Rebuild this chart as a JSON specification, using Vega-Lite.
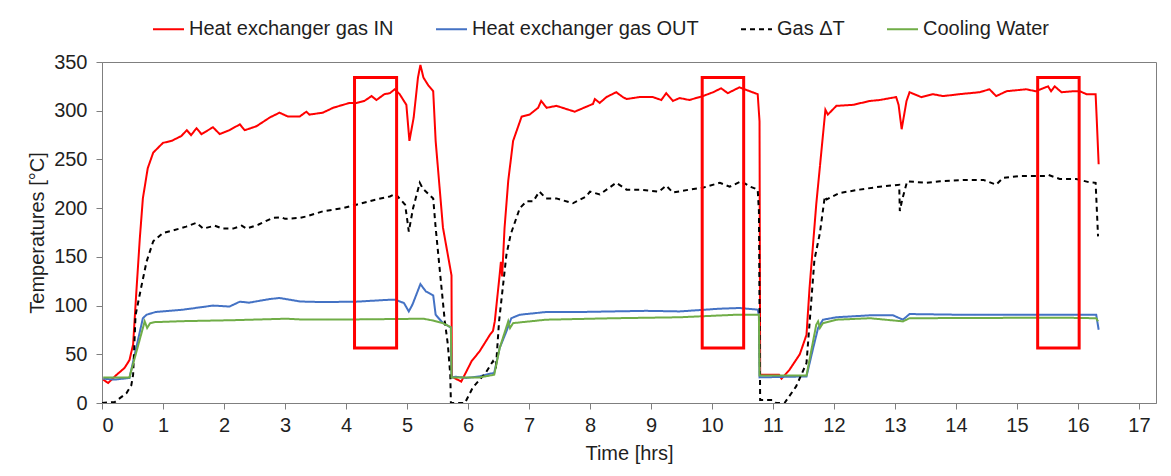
{
  "$schema": "https://vega.github.io/schema/vega-lite/v6.json",
  "width": 1054,
  "height": 341,
  "autosize": {"type": "none"},
  "padding": {"left": 102, "top": 62, "right": 15, "bottom": 73},
  "background": "white",
  "config": {
    "font": "Liberation Sans",
    "view": {"stroke": "#7f7f7f", "strokeWidth": 1},
    "axis": {"grid": false, "domainColor": "#7f7f7f", "tickColor": "#7f7f7f", "labelFontSize": 20, "labelColor": "#1f1f1f", "titleFontSize": 20, "titleFontWeight": "normal", "titleColor": "#1f1f1f", "tickSize": 6, "labelFont": "Liberation Sans", "titleFont": "Liberation Sans"},
    "legend": {"orient": "none", "legendX": 50, "legendY": -49.5, "direction": "horizontal", "symbolType": "stroke", "symbolSize": 961, "symbolStrokeWidth": 2, "labelFontSize": 20, "labelFont": "Liberation Sans", "labelColor": "#1f1f1f", "labelOffset": 4, "columnPadding": 38, "padding": 0, "labelLimit": 400}
  },
  "datasets": {
    "lines": [
      {"s":"Heat exchanger gas IN","t":0.02,"v":24},{"s":"Heat exchanger gas IN","t":0.1,"v":20.5},{"s":"Heat exchanger gas IN","t":0.24,"v":29},{"s":"Heat exchanger gas IN","t":0.37,"v":36},{"s":"Heat exchanger gas IN","t":0.45,"v":44},{"s":"Heat exchanger gas IN","t":0.51,"v":60},{"s":"Heat exchanger gas IN","t":0.56,"v":111},{"s":"Heat exchanger gas IN","t":0.62,"v":169},{"s":"Heat exchanger gas IN","t":0.67,"v":210},{"s":"Heat exchanger gas IN","t":0.75,"v":241},{"s":"Heat exchanger gas IN","t":0.84,"v":257},{"s":"Heat exchanger gas IN","t":1.0,"v":267},{"s":"Heat exchanger gas IN","t":1.14,"v":269},{"s":"Heat exchanger gas IN","t":1.3,"v":274},{"s":"Heat exchanger gas IN","t":1.39,"v":280},{"s":"Heat exchanger gas IN","t":1.46,"v":275},{"s":"Heat exchanger gas IN","t":1.55,"v":282},{"s":"Heat exchanger gas IN","t":1.63,"v":276},{"s":"Heat exchanger gas IN","t":1.82,"v":283},{"s":"Heat exchanger gas IN","t":1.93,"v":276},{"s":"Heat exchanger gas IN","t":2.09,"v":280},{"s":"Heat exchanger gas IN","t":2.26,"v":286},{"s":"Heat exchanger gas IN","t":2.34,"v":280},{"s":"Heat exchanger gas IN","t":2.53,"v":284},{"s":"Heat exchanger gas IN","t":2.75,"v":293},{"s":"Heat exchanger gas IN","t":2.91,"v":298},{"s":"Heat exchanger gas IN","t":3.05,"v":294},{"s":"Heat exchanger gas IN","t":3.24,"v":294},{"s":"Heat exchanger gas IN","t":3.35,"v":299},{"s":"Heat exchanger gas IN","t":3.4,"v":296},{"s":"Heat exchanger gas IN","t":3.62,"v":298},{"s":"Heat exchanger gas IN","t":3.79,"v":303},{"s":"Heat exchanger gas IN","t":3.95,"v":306},{"s":"Heat exchanger gas IN","t":4.06,"v":308},{"s":"Heat exchanger gas IN","t":4.17,"v":308},{"s":"Heat exchanger gas IN","t":4.3,"v":310},{"s":"Heat exchanger gas IN","t":4.42,"v":315},{"s":"Heat exchanger gas IN","t":4.5,"v":311},{"s":"Heat exchanger gas IN","t":4.63,"v":317},{"s":"Heat exchanger gas IN","t":4.72,"v":318},{"s":"Heat exchanger gas IN","t":4.8,"v":322},{"s":"Heat exchanger gas IN","t":4.88,"v":317},{"s":"Heat exchanger gas IN","t":4.99,"v":306},{"s":"Heat exchanger gas IN","t":5.04,"v":269},{"s":"Heat exchanger gas IN","t":5.11,"v":293},{"s":"Heat exchanger gas IN","t":5.18,"v":334},{"s":"Heat exchanger gas IN","t":5.22,"v":347},{"s":"Heat exchanger gas IN","t":5.27,"v":334},{"s":"Heat exchanger gas IN","t":5.35,"v":326},{"s":"Heat exchanger gas IN","t":5.43,"v":320},{"s":"Heat exchanger gas IN","t":5.47,"v":269},{"s":"Heat exchanger gas IN","t":5.59,"v":180},{"s":"Heat exchanger gas IN","t":5.73,"v":131},{"s":"Heat exchanger gas IN","t":5.735,"v":27},{"s":"Heat exchanger gas IN","t":5.89,"v":22},{"s":"Heat exchanger gas IN","t":6.06,"v":43},{"s":"Heat exchanger gas IN","t":6.19,"v":53},{"s":"Heat exchanger gas IN","t":6.36,"v":70},{"s":"Heat exchanger gas IN","t":6.41,"v":74},{"s":"Heat exchanger gas IN","t":6.44,"v":84},{"s":"Heat exchanger gas IN","t":6.52,"v":132},{"s":"Heat exchanger gas IN","t":6.54,"v":145},{"s":"Heat exchanger gas IN","t":6.56,"v":130},{"s":"Heat exchanger gas IN","t":6.6,"v":180},{"s":"Heat exchanger gas IN","t":6.66,"v":228},{"s":"Heat exchanger gas IN","t":6.74,"v":269},{"s":"Heat exchanger gas IN","t":6.88,"v":294},{"s":"Heat exchanger gas IN","t":7.01,"v":296},{"s":"Heat exchanger gas IN","t":7.15,"v":303},{"s":"Heat exchanger gas IN","t":7.2,"v":310},{"s":"Heat exchanger gas IN","t":7.29,"v":303},{"s":"Heat exchanger gas IN","t":7.45,"v":305},{"s":"Heat exchanger gas IN","t":7.75,"v":299},{"s":"Heat exchanger gas IN","t":8.05,"v":307},{"s":"Heat exchanger gas IN","t":8.08,"v":312},{"s":"Heat exchanger gas IN","t":8.16,"v":308},{"s":"Heat exchanger gas IN","t":8.27,"v":314},{"s":"Heat exchanger gas IN","t":8.43,"v":319},{"s":"Heat exchanger gas IN","t":8.54,"v":314},{"s":"Heat exchanger gas IN","t":8.6,"v":312},{"s":"Heat exchanger gas IN","t":8.81,"v":314},{"s":"Heat exchanger gas IN","t":9.03,"v":314},{"s":"Heat exchanger gas IN","t":9.17,"v":311},{"s":"Heat exchanger gas IN","t":9.25,"v":318},{"s":"Heat exchanger gas IN","t":9.36,"v":310},{"s":"Heat exchanger gas IN","t":9.47,"v":313},{"s":"Heat exchanger gas IN","t":9.63,"v":311},{"s":"Heat exchanger gas IN","t":9.85,"v":315},{"s":"Heat exchanger gas IN","t":10.02,"v":319},{"s":"Heat exchanger gas IN","t":10.15,"v":323},{"s":"Heat exchanger gas IN","t":10.26,"v":318},{"s":"Heat exchanger gas IN","t":10.45,"v":324},{"s":"Heat exchanger gas IN","t":10.62,"v":320},{"s":"Heat exchanger gas IN","t":10.75,"v":317},{"s":"Heat exchanger gas IN","t":10.78,"v":289},{"s":"Heat exchanger gas IN","t":10.79,"v":29},{"s":"Heat exchanger gas IN","t":11.1,"v":29},{"s":"Heat exchanger gas IN","t":11.14,"v":25},{"s":"Heat exchanger gas IN","t":11.27,"v":34},{"s":"Heat exchanger gas IN","t":11.44,"v":50},{"s":"Heat exchanger gas IN","t":11.55,"v":70},{"s":"Heat exchanger gas IN","t":11.6,"v":118},{"s":"Heat exchanger gas IN","t":11.71,"v":204},{"s":"Heat exchanger gas IN","t":11.82,"v":275},{"s":"Heat exchanger gas IN","t":11.86,"v":301},{"s":"Heat exchanger gas IN","t":11.9,"v":296},{"s":"Heat exchanger gas IN","t":12.04,"v":305},{"s":"Heat exchanger gas IN","t":12.31,"v":306},{"s":"Heat exchanger gas IN","t":12.59,"v":310},{"s":"Heat exchanger gas IN","t":12.75,"v":311},{"s":"Heat exchanger gas IN","t":13.02,"v":314},{"s":"Heat exchanger gas IN","t":13.06,"v":306},{"s":"Heat exchanger gas IN","t":13.11,"v":281},{"s":"Heat exchanger gas IN","t":13.19,"v":310},{"s":"Heat exchanger gas IN","t":13.24,"v":319},{"s":"Heat exchanger gas IN","t":13.43,"v":314},{"s":"Heat exchanger gas IN","t":13.62,"v":317},{"s":"Heat exchanger gas IN","t":13.79,"v":315},{"s":"Heat exchanger gas IN","t":14.06,"v":317},{"s":"Heat exchanger gas IN","t":14.39,"v":319},{"s":"Heat exchanger gas IN","t":14.55,"v":322},{"s":"Heat exchanger gas IN","t":14.66,"v":315},{"s":"Heat exchanger gas IN","t":14.83,"v":320},{"s":"Heat exchanger gas IN","t":15.15,"v":322},{"s":"Heat exchanger gas IN","t":15.31,"v":320},{"s":"Heat exchanger gas IN","t":15.51,"v":325},{"s":"Heat exchanger gas IN","t":15.56,"v":320},{"s":"Heat exchanger gas IN","t":15.62,"v":325},{"s":"Heat exchanger gas IN","t":15.73,"v":319},{"s":"Heat exchanger gas IN","t":15.92,"v":320},{"s":"Heat exchanger gas IN","t":16.03,"v":320},{"s":"Heat exchanger gas IN","t":16.14,"v":317},{"s":"Heat exchanger gas IN","t":16.29,"v":317},{"s":"Heat exchanger gas IN","t":16.31,"v":289},{"s":"Heat exchanger gas IN","t":16.34,"v":245},
      {"s":"Heat exchanger gas OUT","t":0.02,"v":25},{"s":"Heat exchanger gas OUT","t":0.2,"v":24},{"s":"Heat exchanger gas OUT","t":0.45,"v":25.7},{"s":"Heat exchanger gas OUT","t":0.67,"v":87},{"s":"Heat exchanger gas OUT","t":0.73,"v":90.6},{"s":"Heat exchanger gas OUT","t":0.88,"v":93.4},{"s":"Heat exchanger gas OUT","t":1.33,"v":95.8},{"s":"Heat exchanger gas OUT","t":1.82,"v":100},{"s":"Heat exchanger gas OUT","t":2.09,"v":99},{"s":"Heat exchanger gas OUT","t":2.26,"v":104},{"s":"Heat exchanger gas OUT","t":2.41,"v":103},{"s":"Heat exchanger gas OUT","t":2.75,"v":106.7},{"s":"Heat exchanger gas OUT","t":2.91,"v":107.8},{"s":"Heat exchanger gas OUT","t":3.24,"v":104.3},{"s":"Heat exchanger gas OUT","t":3.35,"v":104},{"s":"Heat exchanger gas OUT","t":3.62,"v":103.6},{"s":"Heat exchanger gas OUT","t":4.17,"v":104},{"s":"Heat exchanger gas OUT","t":4.72,"v":106},{"s":"Heat exchanger gas OUT","t":4.81,"v":106},{"s":"Heat exchanger gas OUT","t":4.95,"v":102.6},{"s":"Heat exchanger gas OUT","t":5.03,"v":94},{"s":"Heat exchanger gas OUT","t":5.09,"v":101},{"s":"Heat exchanger gas OUT","t":5.22,"v":122},{"s":"Heat exchanger gas OUT","t":5.31,"v":114.5},{"s":"Heat exchanger gas OUT","t":5.43,"v":110.5},{"s":"Heat exchanger gas OUT","t":5.47,"v":90.6},{"s":"Heat exchanger gas OUT","t":5.59,"v":82},{"s":"Heat exchanger gas OUT","t":5.72,"v":77.6},{"s":"Heat exchanger gas OUT","t":5.73,"v":26},{"s":"Heat exchanger gas OUT","t":5.8,"v":27},{"s":"Heat exchanger gas OUT","t":5.97,"v":25.7},{"s":"Heat exchanger gas OUT","t":6.19,"v":27.3},{"s":"Heat exchanger gas OUT","t":6.36,"v":30},{"s":"Heat exchanger gas OUT","t":6.43,"v":31},{"s":"Heat exchanger gas OUT","t":6.52,"v":56.5},{"s":"Heat exchanger gas OUT","t":6.63,"v":73.5},{"s":"Heat exchanger gas OUT","t":6.71,"v":87},{"s":"Heat exchanger gas OUT","t":6.85,"v":90.6},{"s":"Heat exchanger gas OUT","t":7.28,"v":93.4},{"s":"Heat exchanger gas OUT","t":7.83,"v":93.4},{"s":"Heat exchanger gas OUT","t":8.38,"v":94},{"s":"Heat exchanger gas OUT","t":8.92,"v":94.6},{"s":"Heat exchanger gas OUT","t":9.47,"v":94},{"s":"Heat exchanger gas OUT","t":10.13,"v":96.8},{"s":"Heat exchanger gas OUT","t":10.45,"v":97.5},{"s":"Heat exchanger gas OUT","t":10.75,"v":95.8},{"s":"Heat exchanger gas OUT","t":10.77,"v":90},{"s":"Heat exchanger gas OUT","t":10.78,"v":26.3},{"s":"Heat exchanger gas OUT","t":11.55,"v":27.3},{"s":"Heat exchanger gas OUT","t":11.66,"v":56.5},{"s":"Heat exchanger gas OUT","t":11.74,"v":77},{"s":"Heat exchanger gas OUT","t":11.82,"v":85.5},{"s":"Heat exchanger gas OUT","t":12.04,"v":88},{"s":"Heat exchanger gas OUT","t":12.59,"v":90},{"s":"Heat exchanger gas OUT","t":12.97,"v":90},{"s":"Heat exchanger gas OUT","t":13.13,"v":85.5},{"s":"Heat exchanger gas OUT","t":13.24,"v":91.3},{"s":"Heat exchanger gas OUT","t":14.06,"v":90.6},{"s":"Heat exchanger gas OUT","t":15.15,"v":90.6},{"s":"Heat exchanger gas OUT","t":16.3,"v":90.6},{"s":"Heat exchanger gas OUT","t":16.34,"v":75.2},
      {"s":"Gas ΔT","t":0,"v":0},{"s":"Gas ΔT","t":0.21,"v":1},{"s":"Gas ΔT","t":0.4,"v":10},{"s":"Gas ΔT","t":0.48,"v":18},{"s":"Gas ΔT","t":0.51,"v":29},{"s":"Gas ΔT","t":0.55,"v":90},{"s":"Gas ΔT","t":0.64,"v":118},{"s":"Gas ΔT","t":0.73,"v":145},{"s":"Gas ΔT","t":0.84,"v":166},{"s":"Gas ΔT","t":1.0,"v":174.5},{"s":"Gas ΔT","t":1.16,"v":177},{"s":"Gas ΔT","t":1.38,"v":181},{"s":"Gas ΔT","t":1.55,"v":185},{"s":"Gas ΔT","t":1.66,"v":179},{"s":"Gas ΔT","t":1.85,"v":182},{"s":"Gas ΔT","t":1.98,"v":179},{"s":"Gas ΔT","t":2.15,"v":179},{"s":"Gas ΔT","t":2.29,"v":182},{"s":"Gas ΔT","t":2.37,"v":179},{"s":"Gas ΔT","t":2.56,"v":183},{"s":"Gas ΔT","t":2.8,"v":190},{"s":"Gas ΔT","t":2.94,"v":190.6},{"s":"Gas ΔT","t":3.0,"v":189},{"s":"Gas ΔT","t":3.24,"v":190},{"s":"Gas ΔT","t":3.35,"v":191.5},{"s":"Gas ΔT","t":3.62,"v":196.7},{"s":"Gas ΔT","t":3.95,"v":200},{"s":"Gas ΔT","t":4.17,"v":203.5},{"s":"Gas ΔT","t":4.48,"v":208.7},{"s":"Gas ΔT","t":4.72,"v":212},{"s":"Gas ΔT","t":4.81,"v":214.5},{"s":"Gas ΔT","t":4.92,"v":207},{"s":"Gas ΔT","t":4.97,"v":203.5},{"s":"Gas ΔT","t":5.03,"v":176},{"s":"Gas ΔT","t":5.1,"v":200},{"s":"Gas ΔT","t":5.21,"v":226},{"s":"Gas ΔT","t":5.26,"v":220},{"s":"Gas ΔT","t":5.43,"v":210},{"s":"Gas ΔT","t":5.47,"v":180},{"s":"Gas ΔT","t":5.54,"v":135},{"s":"Gas ΔT","t":5.62,"v":84},{"s":"Gas ΔT","t":5.67,"v":60},{"s":"Gas ΔT","t":5.71,"v":29},{"s":"Gas ΔT","t":5.72,"v":0},{"s":"Gas ΔT","t":5.95,"v":0},{"s":"Gas ΔT","t":6.08,"v":16},{"s":"Gas ΔT","t":6.29,"v":31},{"s":"Gas ΔT","t":6.41,"v":43},{"s":"Gas ΔT","t":6.46,"v":38},{"s":"Gas ΔT","t":6.51,"v":84},{"s":"Gas ΔT","t":6.57,"v":118},{"s":"Gas ΔT","t":6.63,"v":152},{"s":"Gas ΔT","t":6.7,"v":173},{"s":"Gas ΔT","t":6.85,"v":200},{"s":"Gas ΔT","t":6.96,"v":207},{"s":"Gas ΔT","t":7.07,"v":207},{"s":"Gas ΔT","t":7.17,"v":217},{"s":"Gas ΔT","t":7.28,"v":210},{"s":"Gas ΔT","t":7.45,"v":210},{"s":"Gas ΔT","t":7.72,"v":205},{"s":"Gas ΔT","t":7.94,"v":212},{"s":"Gas ΔT","t":8.0,"v":217},{"s":"Gas ΔT","t":8.16,"v":214},{"s":"Gas ΔT","t":8.43,"v":226},{"s":"Gas ΔT","t":8.6,"v":219},{"s":"Gas ΔT","t":8.81,"v":219},{"s":"Gas ΔT","t":9.13,"v":217},{"s":"Gas ΔT","t":9.25,"v":223},{"s":"Gas ΔT","t":9.36,"v":216},{"s":"Gas ΔT","t":9.63,"v":219},{"s":"Gas ΔT","t":9.85,"v":221},{"s":"Gas ΔT","t":10.13,"v":226},{"s":"Gas ΔT","t":10.29,"v":222},{"s":"Gas ΔT","t":10.48,"v":227.5},{"s":"Gas ΔT","t":10.63,"v":222},{"s":"Gas ΔT","t":10.75,"v":219},{"s":"Gas ΔT","t":10.77,"v":197},{"s":"Gas ΔT","t":10.79,"v":3},{"s":"Gas ΔT","t":11.0,"v":3},{"s":"Gas ΔT","t":11.05,"v":0},{"s":"Gas ΔT","t":11.19,"v":0},{"s":"Gas ΔT","t":11.38,"v":17},{"s":"Gas ΔT","t":11.55,"v":41},{"s":"Gas ΔT","t":11.63,"v":106},{"s":"Gas ΔT","t":11.68,"v":147},{"s":"Gas ΔT","t":11.77,"v":174.5},{"s":"Gas ΔT","t":11.85,"v":212},{"s":"Gas ΔT","t":11.88,"v":209},{"s":"Gas ΔT","t":12.09,"v":215.5},{"s":"Gas ΔT","t":12.42,"v":219},{"s":"Gas ΔT","t":12.75,"v":222},{"s":"Gas ΔT","t":13.07,"v":224},{"s":"Gas ΔT","t":13.08,"v":197},{"s":"Gas ΔT","t":13.12,"v":209},{"s":"Gas ΔT","t":13.2,"v":227.5},{"s":"Gas ΔT","t":13.52,"v":226},{"s":"Gas ΔT","t":13.74,"v":227.5},{"s":"Gas ΔT","t":14.17,"v":229},{"s":"Gas ΔT","t":14.45,"v":229},{"s":"Gas ΔT","t":14.66,"v":224},{"s":"Gas ΔT","t":14.77,"v":231},{"s":"Gas ΔT","t":15.05,"v":233},{"s":"Gas ΔT","t":15.48,"v":233},{"s":"Gas ΔT","t":15.52,"v":234},{"s":"Gas ΔT","t":15.7,"v":230},{"s":"Gas ΔT","t":15.97,"v":230},{"s":"Gas ΔT","t":16.19,"v":226.5},{"s":"Gas ΔT","t":16.29,"v":226},{"s":"Gas ΔT","t":16.33,"v":171},
      {"s":"Cooling Water","t":0.02,"v":26.3},{"s":"Cooling Water","t":0.45,"v":26.3},{"s":"Cooling Water","t":0.7,"v":83.8},{"s":"Cooling Water","t":0.74,"v":77},{"s":"Cooling Water","t":0.79,"v":82},{"s":"Cooling Water","t":0.86,"v":83},{"s":"Cooling Water","t":1.33,"v":84},{"s":"Cooling Water","t":2.15,"v":85},{"s":"Cooling Water","t":3.02,"v":86.5},{"s":"Cooling Water","t":3.24,"v":85.8},{"s":"Cooling Water","t":4.17,"v":85.8},{"s":"Cooling Water","t":5.27,"v":86.5},{"s":"Cooling Water","t":5.43,"v":84.6},{"s":"Cooling Water","t":5.59,"v":82},{"s":"Cooling Water","t":5.72,"v":77.6},{"s":"Cooling Water","t":5.73,"v":26.3},{"s":"Cooling Water","t":6.19,"v":26.3},{"s":"Cooling Water","t":6.43,"v":29},{"s":"Cooling Water","t":6.52,"v":56.5},{"s":"Cooling Water","t":6.66,"v":83.8},{"s":"Cooling Water","t":6.69,"v":77},{"s":"Cooling Water","t":6.74,"v":82},{"s":"Cooling Water","t":7.28,"v":85.5},{"s":"Cooling Water","t":8.38,"v":87},{"s":"Cooling Water","t":9.47,"v":88},{"s":"Cooling Water","t":10.4,"v":90.6},{"s":"Cooling Water","t":10.77,"v":90.6},{"s":"Cooling Water","t":10.78,"v":28.3},{"s":"Cooling Water","t":11.55,"v":28.3},{"s":"Cooling Water","t":11.71,"v":80.4},{"s":"Cooling Water","t":11.74,"v":83.8},{"s":"Cooling Water","t":11.77,"v":77},{"s":"Cooling Water","t":11.82,"v":82},{"s":"Cooling Water","t":12.04,"v":85.5},{"s":"Cooling Water","t":12.59,"v":87},{"s":"Cooling Water","t":13.13,"v":83.8},{"s":"Cooling Water","t":13.24,"v":87},{"s":"Cooling Water","t":15.7,"v":87.6},{"s":"Cooling Water","t":16.3,"v":87},{"s":"Cooling Water","t":16.33,"v":83.8}
    ],
    "boxes": [
      {"x0": 4.14, "x1": 4.83, "y0": 56.5, "y1": 334},
      {"x0": 9.84, "x1": 10.52, "y0": 56.5, "y1": 334},
      {"x0": 15.34, "x1": 16.02, "y0": 56.5, "y1": 334}
    ]
  },
  "layer": [
    {
      "data": {"name": "lines"},
      "mark": {"type": "line", "strokeWidth": 2, "clip": true},
      "encoding": {
        "x": {"field": "t", "type": "quantitative", "scale": {"domain": [0, 17.28], "nice": false, "zero": false}, "axis": {"values": [0,1,2,3,4,5,6,7,8,9,10,11,12,13,14,15,16,17], "format": "d", "title": "Time [hrs]", "labelPadding": 6, "titlePadding": 8}},
        "y": {"field": "v", "type": "quantitative", "scale": {"domain": [0, 350], "nice": false}, "axis": {"values": [0,50,100,150,200,250,300,350], "title": "Temperatures [°C]", "labelPadding": 9, "titlePadding": 6}},
        "color": {"field": "s", "type": "nominal", "scale": {"domain": ["Heat exchanger gas IN", "Heat exchanger gas OUT", "Gas ΔT", "Cooling Water"], "range": ["#ff0000", "#4472c4", "#000000", "#70ad47"]}, "legend": {"title": null}},
        "strokeDash": {"field": "s", "type": "nominal", "scale": {"domain": ["Heat exchanger gas IN", "Heat exchanger gas OUT", "Gas ΔT", "Cooling Water"], "range": [[1, 0], [1, 0], [5, 4], [1, 0]]}, "legend": {"title": null}}
      }
    },
    {
      "data": {"name": "boxes"},
      "mark": {"type": "rect", "filled": false, "stroke": "#ff0000", "strokeWidth": 3},
      "encoding": {
        "x": {"field": "x0", "type": "quantitative"},
        "x2": {"field": "x1"},
        "y": {"field": "y0", "type": "quantitative"},
        "y2": {"field": "y1"}
      }
    }
  ]
}
